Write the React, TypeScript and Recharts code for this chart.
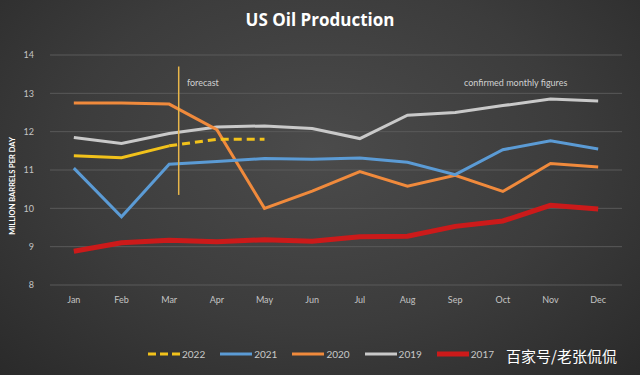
import { CartesianGrid, Line, LineChart, ReferenceLine, XAxis, YAxis } from "recharts";

const months = ["Jan", "Feb", "Mar", "Apr", "May", "Jun", "Jul", "Aug", "Sep", "Oct", "Nov", "Dec"];
const yTicks = [8, 9, 10, 11, 12, 13, 14];

// million barrels per day
const p2022 = [11.37, 11.32, 11.63];
const p2022Forecast = [null, null, 11.63, 11.8, 11.8];
const p2021 = [11.05, 9.78, 11.15, 11.22, 11.3, 11.28, 11.31, 11.2, 10.88, 11.53, 11.76, 11.55];
const p2020 = [12.75, 12.75, 12.72, 12.05, 10.0, 10.45, 10.96, 10.58, 10.86, 10.44, 11.17, 11.08];
const p2019 = [11.85, 11.69, 11.95, 12.12, 12.15, 12.08, 11.82, 12.43, 12.5, 12.68, 12.85, 12.8];
const p2017 = [8.88, 9.1, 9.17, 9.13, 9.18, 9.14, 9.26, 9.27, 9.53, 9.67, 10.08, 9.98];

const forecastMarker = { x: 2.2, from: 10.35, to: 13.7 };

const data = months.map((m, i) => ({
  i,
  month: m,
  y2022: p2022[i] ?? null,
  y2022f: p2022Forecast[i] ?? null,
  y2021: p2021[i],
  y2020: p2020[i],
  y2019: p2019[i],
  y2017: p2017[i],
}));

const legendItems = [
  { label: "2022", color: "#f2c21b", dashed: true, width: 3 },
  { label: "2021", color: "#5b9bd5", dashed: false, width: 3 },
  { label: "2020", color: "#f08a3c", dashed: false, width: 3 },
  { label: "2019", color: "#c9c9c9", dashed: false, width: 3 },
  { label: "2017", color: "#cc1a1a", dashed: false, width: 5 },
];

const tickStyle = { fill: "#c4c4c4", fontSize: 9, fontFamily: "Lato" };

export default function App() {
  return (
    <div
      style={{
        position: "absolute",
        left: 0,
        top: 0,
        width: 640,
        height: 375,
        overflow: "hidden",
        background: "radial-gradient(ellipse at 50% 40%, #4b4b4b 0%, #3c3c3c 55%, #2a2a2a 100%)",
        fontFamily: "Lato",
      }}
    >
      <div
        style={{
          position: "absolute",
          top: 8,
          width: 640,
          textAlign: "center",
          color: "#ffffff",
          fontFamily: "Open Sans",
          fontWeight: 700,
          fontSize: 17,
        }}
      >
        US Oil Production
      </div>
      <div
        style={{
          position: "absolute",
          left: 12,
          top: 186,
          transform: "translate(-50%, -50%) rotate(-90deg)",
          whiteSpace: "nowrap",
          color: "#ffffff",
          fontWeight: 700,
          fontSize: 7.5,
        }}
      >
        MILLION BARRELS PER DAY
      </div>
      <div style={{ position: "absolute", left: 187, top: 77, color: "#d0d0d0", fontSize: 9 }}>forecast</div>
      <div style={{ position: "absolute", left: 464, top: 77, color: "#d0d0d0", fontSize: 9 }}>
        confirmed monthly figures
      </div>
      <LineChart width={640} height={375} data={data} margin={{ top: 55, right: 18, bottom: 60, left: 0 }}>
        <CartesianGrid vertical={false} stroke="#5a5a5a" strokeWidth={1} />
        <XAxis
          dataKey="i"
          type="number"
          domain={[-0.5, 11.5]}
          ticks={months.map((_, i) => i)}
          tickFormatter={(v: number) => months[v]}
          axisLine={false}
          tickLine={false}
          tick={tickStyle}
          tickMargin={6}
        />
        <YAxis
          width={50}
          domain={[8, 14]}
          ticks={yTicks}
          axisLine={false}
          tickLine={false}
          tickSize={0}
          tickMargin={16}
          tick={tickStyle}
        />
        <Line dataKey="y2017" stroke="#cc1a1a" strokeWidth={5} dot={false} isAnimationActive={false} />
        <Line dataKey="y2019" stroke="#c9c9c9" strokeWidth={3} dot={false} isAnimationActive={false} />
        <Line dataKey="y2020" stroke="#f08a3c" strokeWidth={3} dot={false} isAnimationActive={false} />
        <Line dataKey="y2021" stroke="#5b9bd5" strokeWidth={3} dot={false} isAnimationActive={false} />
        <Line dataKey="y2022" stroke="#f2c21b" strokeWidth={3} dot={false} isAnimationActive={false} />
        <Line
          dataKey="y2022f"
          stroke="#f2c21b"
          strokeWidth={3}
          strokeDasharray="8 5"
          dot={false}
          isAnimationActive={false}
        />
        <ReferenceLine
          segment={[
            { x: forecastMarker.x, y: forecastMarker.from },
            { x: forecastMarker.x, y: forecastMarker.to },
          ]}
          stroke="#e8b64a"
          strokeWidth={1.5}
        />
      </LineChart>
      <div
        style={{
          position: "absolute",
          left: 148,
          top: 348,
          display: "flex",
          alignItems: "center",
          gap: 15,
          color: "#c8c8c8",
          fontSize: 10,
        }}
      >
        {legendItems.map((it) => (
          <div key={it.label} style={{ display: "flex", alignItems: "center", gap: 2 }}>
            <svg width={32} height={8}>
              <line
                x1={0}
                y1={4}
                x2={32}
                y2={4}
                stroke={it.color}
                strokeWidth={it.width}
                strokeDasharray={it.dashed ? "8 4" : undefined}
              />
            </svg>
            <span>{it.label}</span>
          </div>
        ))}
      </div>
      <div
        style={{
          position: "absolute",
          left: 506,
          top: 345,
          color: "#ffffff",
          fontSize: 15,
          fontFamily: "Noto Sans CJK SC",
        }}
      >
        百家号/老张侃侃
      </div>
    </div>
  );
}
